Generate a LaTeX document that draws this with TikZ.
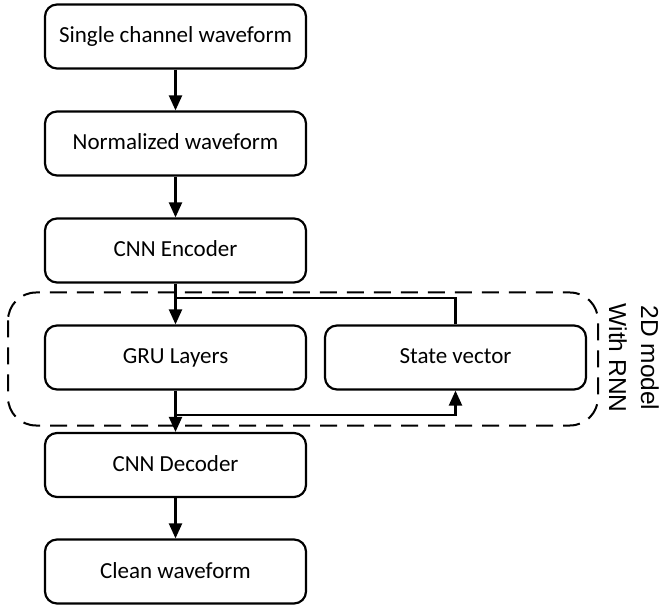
\documentclass[tikz,border=0pt]{standalone}
\usepackage{fontspec}
\setmainfont{Carlito}
\newfontfamily\labelfont{Liberation Sans}
\usetikzlibrary{arrows.meta,calc}
\begin{document}
\begin{tikzpicture}[x=1pt,y=-1pt,
  box/.style={draw,line width=2.2pt,rounded corners=12pt,minimum width=261pt,minimum height=64pt,inner sep=0pt,text height=15pt,text depth=2pt,font=\fontsize{23}{27}\selectfont},
  conn/.style={line width=2.2pt},
  arr/.style={conn,-{Triangle[width=13pt,length=15pt]}}]
\useasboundingbox (0,0) rectangle (664,609);
\node[box] (b1) at (175.5,36.5) {Single channel waveform};
\node[box] (b2) at (175.5,143.5) {Normalized waveform};
\node[box] (b3) at (175.5,250.5) {CNN Encoder};
\node[box] (gru) at (175.5,357.5) {GRU Layers};
\node[box] (sv) at (455.5,357.5) {State vector};
\node[box] (dec) at (175.5,465) {CNN Decoder};
\node[box] (cw) at (175.5,571.5) {Clean waveform};
\draw[line width=2pt,dash pattern=on 17pt off 10pt,rounded corners=28pt] (8,292.5) rectangle (598,425.5);
\node[font=\labelfont\fontsize{24.5}{32}\selectfont,rotate=-90,align=center] (lbl) at (634,358) {2D model\\With RNN};
\draw[arr] (b1) -- (b2);
\draw[arr] (b2) -- (b3);
\draw[arr] (b3) -- (gru);
\draw[arr] (gru) -- (dec);
\draw[arr] (dec) -- (cw);
\coordinate (fb1) at (sv.north |- 0,298);
\coordinate (fb2) at (gru.north |- 0,298);
\draw[conn] (sv.north) -- (fb1) -- (fb2);
\coordinate (br1) at (gru.south |- 0,415);
\coordinate (br2) at (sv.south |- 0,415);
\draw[arr] (br1) -- (br2) -- (sv.south);
\end{tikzpicture}
\end{document}
